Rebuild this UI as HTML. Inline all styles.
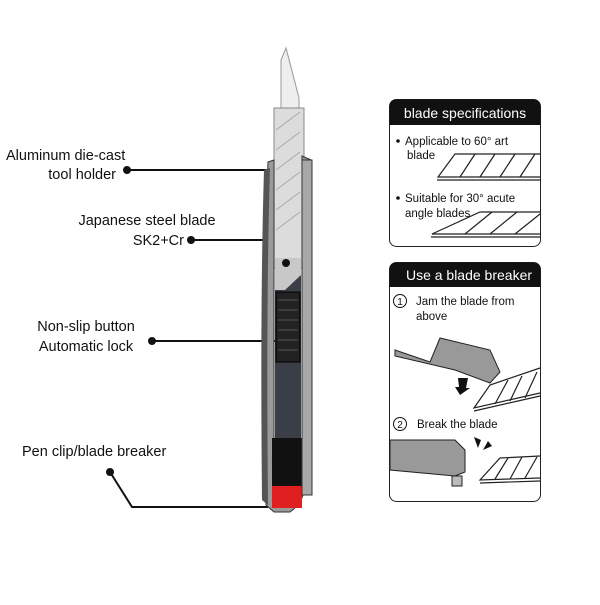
<!DOCTYPE html>
<html><head><style>
body{margin:0;background:#fff;width:600px;height:600px;overflow:hidden;font-family:"Liberation Sans",sans-serif}
</style></head><body>
<svg width="600" height="600" viewBox="0 0 600 600" xmlns="http://www.w3.org/2000/svg" font-family="Liberation Sans, sans-serif">
<g font-size="14.5" fill="#111">
<text x="6" y="160">Aluminum die-cast</text>
<text x="116" y="179" text-anchor="end">tool holder</text>
<text x="147" y="225" text-anchor="middle">Japanese steel blade</text>
<text x="184" y="245" text-anchor="end">SK2+Cr</text>
<text x="86" y="331" text-anchor="middle">Non-slip button</text>
<text x="86" y="351" text-anchor="middle">Automatic lock</text>
<text x="22" y="456">Pen clip/blade breaker</text>
</g>
<g stroke="#111" stroke-width="2" fill="none">
<line x1="127" y1="170" x2="270" y2="170"/>
<line x1="191" y1="240" x2="284" y2="240"/>
<line x1="152" y1="341" x2="285" y2="341"/>
<polyline points="110,472 132,507 268,507"/>
</g>
<g fill="#111"><circle cx="127" cy="170" r="4"/><circle cx="191" cy="240" r="4"/><circle cx="152" cy="341" r="4"/><circle cx="110" cy="472" r="4"/></g>
<!-- knife -->
<polygon points="281,108 281,60 286,48 299,98 299,108" fill="#eee" stroke="#999"/>
<rect x="274" y="108" width="30" height="160" fill="#dcdcdc" stroke="#888"/>
<g stroke="#aaa" stroke-width="1"><line x1="276" y1="130" x2="300" y2="112"/><line x1="276" y1="150" x2="300" y2="132"/><line x1="276" y1="170" x2="300" y2="152"/><line x1="276" y1="190" x2="300" y2="172"/><line x1="276" y1="210" x2="300" y2="192"/><line x1="276" y1="230" x2="300" y2="212"/></g>
<path d="M268,162 Q263,300 266,505 L274,512 L290,512 Q300,505 303,495 L311,160 L302,156 L302,470 L274,470 L274,160 Z" fill="#9a9a9a" stroke="#333"/>
<path d="M264,170 Q260,300 262,500 L268,505 Q266,300 270,168 Z" fill="#555"/>
<rect x="275" y="258" width="26" height="180" fill="#3a3f47"/>
<polygon points="275,258 301,258 301,275 285,290 275,290" fill="#c8c8c8"/>
<circle cx="286" cy="263" r="4" fill="#111"/>
<rect x="276" y="292" width="24" height="70" fill="#222" stroke="#000"/>
<g stroke="#555"><line x1="278" y1="300" x2="298" y2="300"/><line x1="278" y1="310" x2="298" y2="310"/><line x1="278" y1="320" x2="298" y2="320"/><line x1="278" y1="330" x2="298" y2="330"/><line x1="278" y1="340" x2="298" y2="340"/><line x1="278" y1="350" x2="298" y2="350"/></g>
<rect x="272" y="438" width="30" height="48" fill="#111"/>
<rect x="272" y="486" width="30" height="22" fill="#e02020"/>
<rect x="302" y="160" width="10" height="335" fill="#a8a8a8" stroke="#333"/>
<!-- panel 1 -->
<rect x="389.5" y="99.5" width="151" height="147" rx="7" fill="#fff" stroke="#222"/>
<path d="M389.5,125 V106.5 Q389.5,99.5 396.5,99.5 H533.5 Q540.5,99.5 540.5,106.5 V125 Z" fill="#111"/>
<text x="465" y="118" fill="#fff" font-size="14" text-anchor="middle">blade specifications</text>
<g font-size="11.5" fill="#111">
<circle cx="398" cy="141" r="1.8"/>
<text x="405" y="145">Applicable to 60° art</text>
<text x="407" y="159">blade</text>
<circle cx="398" cy="198" r="1.8"/>
<text x="405" y="202">Suitable for 30° acute</text>
<text x="405" y="217">angle blades</text>
</g>
<g stroke="#222" fill="none" stroke-width="1.2">
<polyline points="540,154 455,154 438,177 540,177"/><line x1="437" y1="180" x2="540" y2="180"/>
<line x1="460" y1="177" x2="475" y2="154"/><line x1="480" y1="177" x2="495" y2="154"/><line x1="500" y1="177" x2="515" y2="154"/><line x1="520" y1="177" x2="535" y2="154"/>
<polyline points="540,212 480,212 432,234 540,234"/><line x1="431" y1="237" x2="540" y2="237"/>
<line x1="465" y1="234" x2="492" y2="212"/><line x1="490" y1="234" x2="517" y2="212"/><line x1="515" y1="234" x2="540" y2="214"/>
</g>
<!-- panel 2 -->
<rect x="389.5" y="262.5" width="151" height="239" rx="7" fill="#fff" stroke="#222"/>
<path d="M389.5,287 V269.5 Q389.5,262.5 396.5,262.5 H533.5 Q540.5,262.5 540.5,269.5 V287 Z" fill="#111"/>
<text x="469" y="280" fill="#fff" font-size="14" text-anchor="middle">Use a blade breaker</text>
<g font-size="11.5" fill="#111">
<circle cx="400" cy="301" r="6.5" fill="none" stroke="#111"/><text x="400" y="305" text-anchor="middle" font-size="10">1</text>
<text x="416" y="305">Jam the blade from</text>
<text x="416" y="320">above</text>
<circle cx="400" cy="424" r="6.5" fill="none" stroke="#111"/><text x="400" y="428" text-anchor="middle" font-size="10">2</text>
<text x="417" y="428">Break the blade</text>
</g>
<polygon points="395,350 430,362 440,338 490,350 500,372 490,383 455,370 395,356" fill="#999" stroke="#222"/>
<polygon points="458,378 468,378 466,388 470,388 460,395 455,387 459,387" fill="#111"/>
<g stroke="#222" fill="none" stroke-width="1.2">
<polyline points="540,368 490,385 474,408 540,393"/><line x1="474" y1="411" x2="540" y2="396"/>
<line x1="495" y1="404" x2="508" y2="380"/><line x1="510" y1="401" x2="522" y2="376"/><line x1="525" y1="398" x2="537" y2="372"/>
</g>
<polygon points="390,440 455,440 465,450 465,472 455,476 390,470" fill="#999" stroke="#222"/>
<polygon points="452,476 462,476 462,486 452,486" fill="#bbb" stroke="#222"/>
<g stroke="#222" fill="none" stroke-width="1.2">
<polyline points="540,456 500,458 480,480 540,478"/><line x1="480" y1="483" x2="540" y2="481"/>
<line x1="495" y1="479" x2="508" y2="458"/><line x1="510" y1="479" x2="522" y2="457"/><line x1="525" y1="478" x2="537" y2="457"/>
</g>
<polygon points="474,437 478,448 481,440" fill="#111"/><polygon points="488,441 483,450 492,446" fill="#111"/>
</svg>
</body></html>
